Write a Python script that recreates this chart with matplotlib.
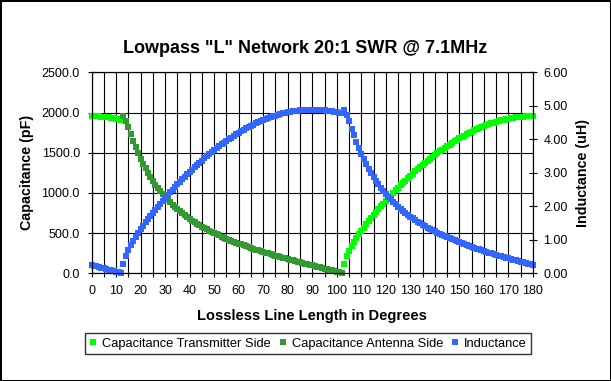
import matplotlib
matplotlib.use("Agg")
import matplotlib.pyplot as plt
from matplotlib.ticker import MultipleLocator, FormatStrFormatter

plt.rcParams['font.family'] = ['Liberation Sans', 'DejaVu Sans']

# degrees along the line, one point per degree
deg_all = list(range(0, 181))

# shunt C on transmitter side (0..12 deg and 103..180 deg), pF
cap_tx_start = [1954.1, 1953.8, 1952.9, 1951.3, 1949.1, 1946.3, 1942.9, 1938.8,
                1934.1, 1928.8, 1922.9, 1916.4, 1909.2]
cap_tx_end = [109.4, 209.1, 278.7, 337.2, 389.6, 438.1, 483.8, 527.3, 569.2, 609.7,
              649.0, 687.3, 724.7, 761.3, 797.2, 832.3, 866.9, 900.8, 934.1, 966.9,
              999.2, 1030.9, 1062.1, 1092.8, 1123.0, 1152.7, 1181.9, 1210.7, 1238.9,
              1266.6, 1293.8, 1320.5, 1346.8, 1372.5, 1397.7, 1422.4, 1446.6, 1470.3,
              1493.5, 1516.2, 1538.3, 1559.9, 1580.9, 1601.5, 1621.5, 1640.9, 1659.8,
              1678.1, 1695.9, 1713.1, 1729.8, 1745.8, 1761.4, 1776.3, 1790.6, 1804.4,
              1817.6, 1830.2, 1842.2, 1853.6, 1864.3, 1874.5, 1884.1, 1893.1, 1901.5,
              1909.2, 1916.4, 1922.9, 1928.8, 1934.1, 1938.8, 1942.9, 1946.3, 1949.1,
              1951.3, 1952.9, 1953.8, 1954.1]

# shunt C on antenna side (13..102 deg), pF
cap_ant = [1953.4, 1896.0, 1813.7, 1728.8, 1646.5, 1568.6, 1495.4, 1427.1, 1363.4,
           1304.1, 1248.7, 1197.0, 1148.6, 1103.3, 1060.8, 1020.8, 983.1, 947.6,
           914.0, 882.2, 852.0, 823.3, 796.0, 770.0, 745.2, 721.5, 698.8, 677.1,
           656.2, 636.1, 616.9, 598.3, 580.4, 563.1, 546.5, 530.4, 514.7, 499.6,
           485.0, 470.8, 456.9, 443.5, 430.4, 417.7, 405.2, 393.1, 381.3, 369.7,
           358.4, 347.4, 336.6, 326.0, 315.6, 305.4, 295.3, 285.5, 275.8, 266.3,
           256.9, 247.7, 238.6, 229.6, 220.8, 212.0, 203.4, 194.8, 186.3, 178.0,
           169.7, 161.5, 153.3, 145.2, 137.2, 129.2, 121.3, 113.4, 105.5, 97.7,
           89.9, 82.1, 74.4, 66.7, 58.9, 51.2, 43.5, 35.8, 28.0, 20.3, 12.5, 4.7]

# series inductance, uH (0..180 deg)
inductance = [0.2443, 0.2248, 0.2054, 0.1860, 0.1667, 0.1474, 0.1281, 0.1087, 0.0894,
              0.0701, 0.0507, 0.0313, 0.0118,
              0.2735, 0.5228, 0.6967, 0.8430, 0.9741, 1.0953, 1.2095, 1.3184, 1.4231,
              1.5243, 1.6226, 1.7183, 1.8118, 1.9033, 1.9930, 2.0809, 2.1673, 2.2521,
              2.3355, 2.4175, 2.4981, 2.5774, 2.6555, 2.7322, 2.8077, 2.8820, 2.9550,
              3.0268, 3.0973, 3.1666, 3.2347, 3.3015, 3.3671, 3.4314, 3.4945, 3.5563,
              3.6168, 3.6760, 3.7340, 3.7906, 3.8459, 3.8999, 3.9526, 4.0039, 4.0539,
              4.1025, 4.1497, 4.1955, 4.2400, 4.2830, 4.3247, 4.3648, 4.4036, 4.4409,
              4.4768, 4.5112, 4.5441, 4.5756, 4.6056, 4.6341, 4.6610, 4.6865, 4.7105,
              4.7330, 4.7539, 4.7733, 4.7912, 4.8075, 4.8223, 4.8355, 4.8472, 4.8573,
              4.8659, 4.8729, 4.8784, 4.8823, 4.8846, 4.8855, 4.8846, 4.8823, 4.8784,
              4.8729, 4.8659, 4.8573, 4.8472, 4.8355, 4.8223, 4.8075, 4.7912, 4.7733,
              4.8836, 4.7401, 4.5345, 4.3224, 4.1166, 3.9215, 3.7386, 3.5679, 3.4086,
              3.2603, 3.1219, 2.9927, 2.8718, 2.7585, 2.6521, 2.5522, 2.4580, 2.3691,
              2.2851, 2.2055, 2.1300, 2.0583, 1.9901, 1.9251, 1.8631, 1.8038, 1.7470,
              1.6927, 1.6405, 1.5904, 1.5422, 1.4958, 1.4511, 1.4079, 1.3662, 1.3259,
              1.2869, 1.2491, 1.2125, 1.1769, 1.1423, 1.1088, 1.0760, 1.0442, 1.0132,
              0.9829, 0.9533, 0.9244, 0.8962, 0.8685, 0.8415, 0.8150, 0.7890, 0.7635,
              0.7384, 0.7138, 0.6896, 0.6658, 0.6423, 0.6193, 0.5965, 0.5741, 0.5519,
              0.5300, 0.5084, 0.4870, 0.4659, 0.4449, 0.4242, 0.4037, 0.3833, 0.3631,
              0.3430, 0.3230, 0.3032, 0.2835, 0.2638, 0.2443]

deg_tx_start = deg_all[:len(cap_tx_start)]
deg_ant = deg_all[13:13 + len(cap_ant)]
deg_tx_end = deg_all[181 - len(cap_tx_end):]

labels = ["Capacitance Transmitter Side", "Capacitance Antenna Side", "Inductance"]
col_tx = '#00FF00'
col_ant = '#339933'
col_ind = '#3366FF'

fig = plt.figure(figsize=(6.11, 3.81), dpi=100, edgecolor='black', linewidth=2)
ax = fig.add_axes([0.1499, 0.2827, 0.7224, 0.5275])
ax2 = ax.twinx()

ms = 4.3
h1, = ax.plot(deg_tx_start, cap_tx_start, 's', color=col_tx, ms=ms, mew=0, clip_on=False)
ax.plot(deg_tx_end, cap_tx_end, 's', color=col_tx, ms=ms, mew=0, clip_on=False)
h2, = ax.plot(deg_ant, cap_ant, 's', color=col_ant, ms=ms, mew=0, clip_on=False)
h3, = ax2.plot(deg_all, inductance, 's', color=col_ind, ms=ms, mew=0, clip_on=False)

ax.set_xlim(0, 180)
ax.set_ylim(0, 2500)
ax2.set_ylim(0, 6)

ax.xaxis.set_major_locator(MultipleLocator(10))
ax.xaxis.set_minor_locator(MultipleLocator(5))
ax.yaxis.set_major_locator(MultipleLocator(500))
ax.yaxis.set_major_formatter(FormatStrFormatter('%.1f'))
ax2.yaxis.set_major_locator(MultipleLocator(1))
ax2.yaxis.set_major_formatter(FormatStrFormatter('%.2f'))

ax.grid(True, which='both', axis='x', color='black', lw=0.8)
ax.grid(True, which='major', axis='y', color='black', lw=0.8)

ax.tick_params(axis='x', which='both', direction='out', length=3, width=0.8,
               labelsize=9, pad=5.3, colors='black')
ax.tick_params(axis='y', direction='inout', length=6, width=0.8, labelsize=9, pad=5.4)
ax2.tick_params(axis='y', direction='inout', length=6, width=0.8, labelsize=9, pad=4.6)
for a in (ax, ax2):
    for sp in a.spines.values():
        sp.set_color('black')
        sp.set_linewidth(0.8)

fig.text(0.4997, 0.874, 'Lowpass "L" Network 20:1 SWR @ 7.1MHz', ha='center', va='center',
         fontsize=13, fontweight='bold')
fig.text(0.5106, 0.1706, 'Lossless Line Length in Degrees', ha='center', va='center',
         fontsize=10.5, fontweight='bold')
fig.text(0.0442, 0.547, 'Capacitance (pF)', ha='center', va='center', rotation=90,
         fontsize=10.3, fontweight='bold')
fig.text(0.954, 0.547, 'Inductance (uH)', ha='center', va='center', rotation=90,
         fontsize=10.3, fontweight='bold')

leg = fig.legend([h1, h2, h3], labels, ncol=3, loc='center', bbox_to_anchor=(0.504, 0.098),
                 frameon=True, fancybox=False, edgecolor='black', fontsize=9.3,
                 handlelength=0.6, handletextpad=0.4, columnspacing=0.6, borderpad=0.35,
                 markerscale=0.85)
leg.get_frame().set_linewidth(1)

plt.savefig("out.png", dpi=100, facecolor='white', edgecolor='black')
